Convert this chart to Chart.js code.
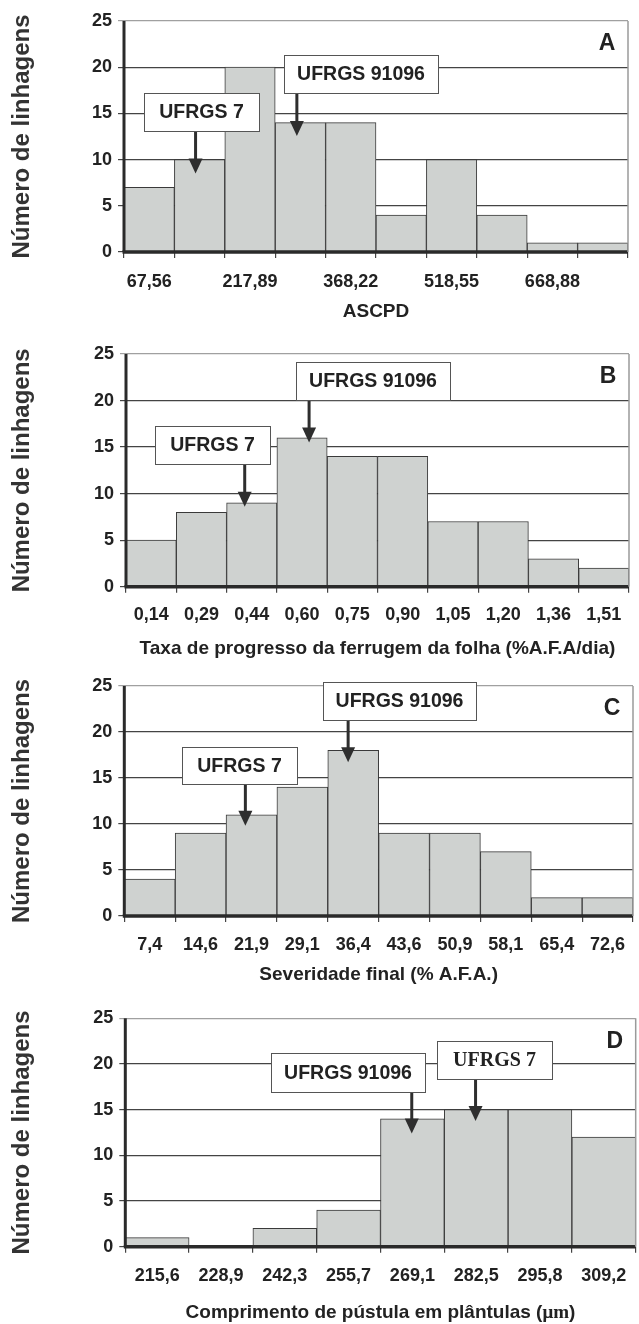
<!DOCTYPE html>
<html>
<head>
<meta charset="utf-8">
<script src="https://cdn.jsdelivr.net/npm/chart.js@4"></script>
<style>
  body { margin: 0; background: #fff; }
  .panel { position: absolute; left: 0; width: 639px; }
</style>
</head>
<body>
<div class="panel" style="top:0px"><canvas id="chartA" width="639" height="330"></canvas></div>
<div class="panel" style="top:330px"><canvas id="chartB" width="639" height="330"></canvas></div>
<div class="panel" style="top:660px"><canvas id="chartC" width="639" height="330"></canvas></div>
<div class="panel" style="top:990px"><canvas id="chartD" width="639" height="334"></canvas></div>
<script>
// data
const ascpdLabels = ['67,56', '', '217,89', '', '368,22', '', '518,55', '', '668,88', ''];
const ascpdCounts = [7, 10, 20, 14, 14, 4, 10, 4, 1, 1];

const taxaLabels = ['0,14', '0,29', '0,44', '0,60', '0,75', '0,90', '1,05', '1,20', '1,36', '1,51'];
const taxaCounts = [5, 8, 9, 16, 14, 14, 7, 7, 3, 2];

const sevLabels = ['7,4', '14,6', '21,9', '29,1', '36,4', '43,6', '50,9', '58,1', '65,4', '72,6'];
const sevCounts = [4, 9, 11, 14, 18, 9, 9, 7, 2, 2];

const pustLabels = ['215,6', '228,9', '242,3', '255,7', '269,1', '282,5', '295,8', '309,2'];
const pustCounts = [1, 0, 2, 4, 14, 15, 15, 12];

const yTitle = 'Número de linhagens';

Chart.defaults.font.family = '"Liberation Sans", Arial, sans-serif';
Chart.defaults.color = '#222';

const sansBold = 'bold 19.5px "Liberation Sans", Arial, sans-serif';
const serifBold = 'bold 20px "Liberation Serif", "Times New Roman", serif';

// callout boxes: x in bar units, y in counts
const notesA = [
  {text: 'UFRGS 7', x0: -0.11, x1: 2.18, top: 17.2, bottom: 13.1, ax: 0.92, tip: 8.5, font: sansBold},
  {text: 'UFRGS 91096', x0: 2.68, x1: 5.73, top: 21.3, bottom: 17.2, ax: 2.93, tip: 12.55, font: sansBold}
];
const notesB = [
  {text: 'UFRGS 7', x0: 0.08, x1: 2.37, top: 17.26, bottom: 13.15, ax: 1.86, tip: 8.6, font: sansBold},
  {text: 'UFRGS 91096', x0: 2.88, x1: 5.95, top: 24.17, bottom: 20.06, ax: 3.14, tip: 15.5, font: sansBold}
];
const notesC = [
  {text: 'UFRGS 7', x0: 0.63, x1: 2.89, top: 18.4, bottom: 14.3, ax: 1.88, tip: 9.8, font: sansBold},
  {text: 'UFRGS 91096', x0: 3.40, x1: 6.41, top: 25.4, bottom: 21.3, ax: 3.90, tip: 16.7, font: sansBold}
];
const notesD = [
  {text: 'UFRGS 91096', x0: 1.78, x1: 4.19, top: 21.17, bottom: 16.97, ax: 3.99, tip: 12.4, font: sansBold},
  {text: 'UFRGS 7', x0: 4.38, x1: 6.19, top: 22.55, bottom: 18.32, ax: 4.99, tip: 13.76, font: serifBold}
];

const panelDecor = {
  id: 'panelDecor',
  afterDatasetsDraw(chart, args, opts) {
    const {ctx, chartArea: a} = chart;
    ctx.save();
    // axes drawn over the bars
    ctx.strokeStyle = '#2a2a2a';
    ctx.lineWidth = 3;
    ctx.beginPath();
    ctx.moveTo(a.left, a.top);
    ctx.lineTo(a.left, a.bottom);
    ctx.stroke();
    ctx.lineWidth = 3.5;
    ctx.beginPath();
    ctx.moveTo(a.left - 1.5, a.bottom);
    ctx.lineTo(a.right, a.bottom);
    ctx.stroke();
    // light frame on the right
    ctx.strokeStyle = '#9a9a9a';
    ctx.lineWidth = 1.5;
    ctx.beginPath();
    ctx.moveTo(a.right, a.top);
    ctx.lineTo(a.right, a.bottom);
    ctx.stroke();
    ctx.restore();
  },
  afterDraw(chart, args, opts) {
    const {ctx, chartArea: a, scales: {x, y}} = chart;
    ctx.save();
    ctx.textAlign = 'center';
    ctx.textBaseline = 'middle';
    ctx.fillStyle = '#222';
    ctx.font = 'bold 23px "Liberation Sans", Arial, sans-serif';
    ctx.fillText(opts.letter, a.right - 21, a.top + 23);

    // x title with the unit in a serif face
    if (opts.unitTitle) {
      const parts = opts.unitTitle;
      const fonts = ['bold 19px "Liberation Sans", Arial, sans-serif',
                     'bold 19px "Liberation Serif", "Times New Roman", serif',
                     'bold 19px "Liberation Sans", Arial, sans-serif'];
      let widths = parts.map((p, i) => { ctx.font = fonts[i]; return ctx.measureText(p).width; });
      let total = widths.reduce((s, w) => s + w, 0);
      let cx = (a.left + a.right) / 2 - total / 2;
      const cy = chart.height - 11.4;
      ctx.textAlign = 'left';
      parts.forEach((p, i) => {
        ctx.font = fonts[i];
        ctx.fillText(p, cx, cy);
        cx += widths[i];
      });
      ctx.textAlign = 'center';
    }

    opts.notes.forEach(n => {
      const l = Math.round(x.getPixelForValue(n.x0));
      const r = Math.round(x.getPixelForValue(n.x1));
      const t = Math.round(y.getPixelForValue(n.top));
      const b = Math.round(y.getPixelForValue(n.bottom));
      ctx.fillStyle = '#fff';
      ctx.fillRect(l, t, r - l, b - t);
      ctx.strokeStyle = '#555';
      ctx.lineWidth = 1;
      ctx.strokeRect(l + 0.5, t + 0.5, r - l, b - t);
      ctx.fillStyle = '#222';
      ctx.font = n.font;
      ctx.fillText(n.text, (l + r) / 2, (t + b) / 2 + 1);

      const ax = x.getPixelForValue(n.ax);
      const tip = y.getPixelForValue(n.tip);
      ctx.strokeStyle = '#2e2e2e';
      ctx.lineWidth = 3;
      ctx.beginPath();
      ctx.moveTo(ax, b + 1);
      ctx.lineTo(ax, tip - 12);
      ctx.stroke();
      ctx.fillStyle = '#2e2e2e';
      ctx.beginPath();
      ctx.moveTo(ax - 7, tip - 15);
      ctx.lineTo(ax + 7, tip - 15);
      ctx.lineTo(ax, tip);
      ctx.closePath();
      ctx.fill();
    });
    ctx.restore();
  }
};

function drawPanel(canvasID, labels, counts, xTitle, letter, notes, f) {
  let context = document.getElementById(canvasID).getContext('2d');
  new Chart(context, {
    type: 'bar',
    data: {
      labels: labels,
      datasets: [{
        data: counts,
        backgroundColor: '#cfd2d0',
        borderColor: '#3a3a3a',
        borderWidth: 1,
        barPercentage: 1,
        categoryPercentage: 1
      }]
    },
    plugins: [panelDecor],
    options: {
      responsive: false,
      animation: false,
      events: [],
      layout: {padding: {left: 0, top: f.top, right: f.right, bottom: 0}},
      plugins: {
        legend: {display: false},
        tooltip: {enabled: false},
        panelDecor: {letter: letter, notes: notes, unitTitle: Array.isArray(xTitle) ? xTitle : null}
      },
      scales: {
        x: {
          offset: true,
          afterFit: s => { s.height = f.xHeight; },
          border: {display: false},
          grid: {
            offset: true,
            drawOnChartArea: false,
            drawTicks: true,
            tickLength: 6,
            color: '#444',
            lineWidth: 1.2
          },
          ticks: {
            autoSkip: false,
            maxRotation: 0,
            padding: f.tickPad,
            color: '#222',
            font: {size: 18, weight: 'bold'}
          },
          title: {
            display: !Array.isArray(xTitle),
            text: xTitle,
            color: '#222',
            font: {size: 19, weight: 'bold'},
            padding: {top: 0, bottom: f.titlePad}
          }
        },
        y: {
          min: 0,
          max: 25,
          afterFit: s => { s.width = f.yWidth; },
          border: {display: false},
          grid: {
            tickLength: 6,
            lineWidth: 1.2,
            color: c => (c.tick && c.tick.value === 25) ? '#a0a0a0' : '#444'
          },
          ticks: {
            stepSize: 5,
            padding: 6,
            color: '#222',
            font: {size: 18, weight: 'bold'}
          },
          title: {
            display: true,
            text: yTitle,
            color: '#333',
            font: {size: 24, weight: 'bold'},
            padding: {top: 8, bottom: 0}
          }
        }
      }
    }
  });
}

drawPanel('chartA', ascpdLabels, ascpdCounts, 'ASCPD', 'A', notesA,
  {top: 21, right: 11, yWidth: 124, xHeight: 78, tickPad: 13, titlePad: 6.6});
drawPanel('chartB', taxaLabels, taxaCounts, 'Taxa de progresso da ferrugem da folha (%A.F.A/dia)', 'B', notesB,
  {top: 24, right: 10, yWidth: 126, xHeight: 73.3, tickPad: 11.5, titlePad: 0.3});
drawPanel('chartC', sevLabels, sevCounts, 'Severidade final (% A.F.A.)', 'C', notesC,
  {top: 26, right: 6, yWidth: 124.3, xHeight: 74, tickPad: 12.2, titlePad: 3.6});
drawPanel('chartD', pustLabels, pustCounts, ['Comprimento de pústula em plântulas (', 'μm', ')'], 'D', notesD,
  {top: 28.3, right: 3, yWidth: 125.3, xHeight: 77.3, tickPad: 12.5, titlePad: 0});
</script>
</body>
</html>
